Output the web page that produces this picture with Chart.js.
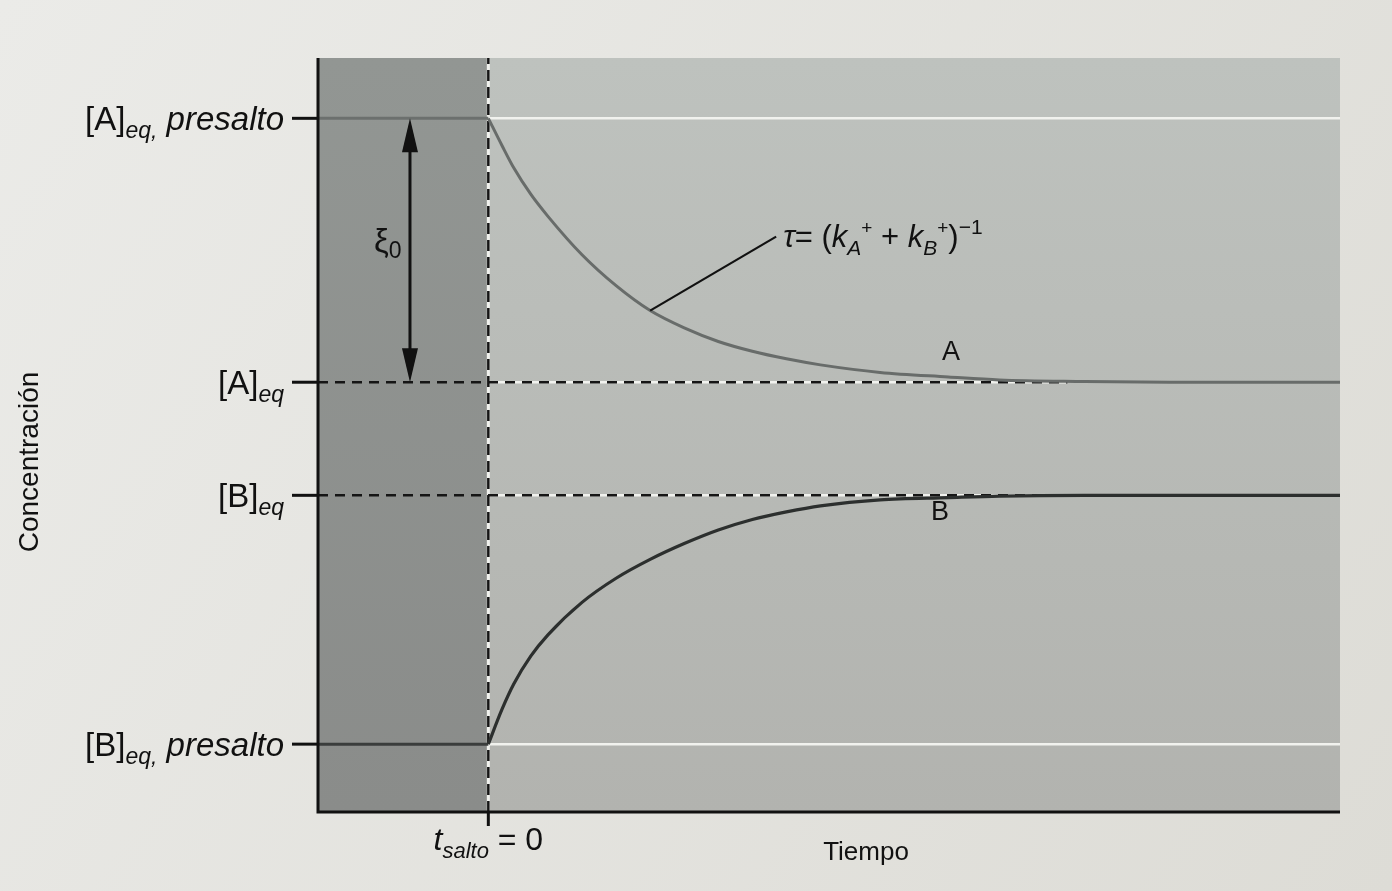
<!DOCTYPE html>
<html lang="es">
<head>
<meta charset="UTF-8">
<title>Concentración frente a tiempo tras el salto</title>
<script src="https://cdn.jsdelivr.net/npm/chart.js@4.4.1/dist/chart.umd.min.js"></script>
<style>
    html, body { margin: 0; padding: 0; background: #e4e5e1; }
    #wrap { width: 1392px; height: 891px; }
</style>
</head>
<body>
<div id="wrap"><canvas id="jumpChart" width="1392" height="891"></canvas></div>
<script>
    // tiempo (unidades arbitrarias), el salto ocurre en t = 0
    var tPre = [-1, 0];
    var tPost = [0, 0.08, 0.15, 0.25, 0.35, 0.55, 0.75, 0.95, 1.15, 1.35, 1.55, 1.75, 1.95, 2.3, 2.7, 3.0, 3.5, 4.0, 5.0];
    var concA = [9.20, 8.84, 8.54, 8.19, 7.90, 7.39, 6.98, 6.65, 6.42, 6.24, 6.11, 6.01, 5.93, 5.83, 5.77, 5.73, 5.71, 5.70, 5.70];
    var concB = [0.90, 1.36, 1.70, 2.07, 2.35, 2.78, 3.10, 3.35, 3.56, 3.74, 3.88, 3.98, 4.06, 4.14, 4.17, 4.19, 4.20, 4.20, 4.20];

    // niveles marcados en el eje y
    var levelValues = [9.2, 5.7, 4.2, 0.9];      // [A]pre, [A]eq, [B]eq, [B]pre
    var levelMain = ['[A]', '[A]', '[B]', '[B]'];
    var levelSub = ['eq,', 'eq', 'eq', 'eq,'];
    var levelTail = ['presalto', '', '', 'presalto'];

    var tMin = -1, tMax = 5, tDashEnd = 3.4;
    var tArrow = -0.46;     // flecha xi_0
    var tLeader = 0.95;     // punto de la curva A señalado por tau

    var FONT = '"Liberation Sans", Arial, Helvetica, sans-serif';

    function pts(xs, ys) {
        return xs.map(function (x, i) { return { x: x, y: ys[i] }; });
    }
    function flat(x0, x1, v) {
        return [{ x: x0, y: v }, { x: x1, y: v }];
    }

    function drawRuns(ctx, runs, x, y, align) {
        var w = 0;
        runs.forEach(function (r) { ctx.font = r.font; w += ctx.measureText(r.text).width; });
        var cx = align === 'right' ? x - w : (align === 'center' ? x - w / 2 : x);
        ctx.textAlign = 'left';
        ctx.textBaseline = 'alphabetic';
        runs.forEach(function (r) {
            ctx.font = r.font;
            ctx.fillText(r.text, cx, y + (r.dy || 0));
            cx += ctx.measureText(r.text).width;
        });
    }

    var figurePlugin = {
        id: 'figure',
        beforeDraw: function (chart) {
            var ctx = chart.ctx;
            var g = ctx.createLinearGradient(0, 0, chart.width, chart.height);
            g.addColorStop(0, '#ebebe8');
            g.addColorStop(1, '#dddcd6');
            ctx.save();
            ctx.fillStyle = g;
            ctx.fillRect(0, 0, chart.width, chart.height);
            ctx.restore();
        },
        beforeDatasetsDraw: function (chart) {
            var ctx = chart.ctx, a = chart.chartArea;
            var x0 = chart.scales.x.getPixelForValue(0);
            ctx.save();
            var gl = ctx.createLinearGradient(0, a.top, 0, a.bottom);
            gl.addColorStop(0, '#929693');
            gl.addColorStop(1, '#8a8c8a');
            ctx.fillStyle = gl;
            ctx.fillRect(a.left, a.top, x0 - a.left, a.bottom - a.top);
            var gr = ctx.createLinearGradient(0, a.top, 0, a.bottom);
            gr.addColorStop(0, '#bec2be');
            gr.addColorStop(1, '#b2b3af');
            ctx.fillStyle = gr;
            ctx.fillRect(x0, a.top, a.right - x0, a.bottom - a.top);
            ctx.restore();
        },
        afterDatasetsDraw: function (chart) {
            var ctx = chart.ctx, a = chart.chartArea;
            var xs = chart.scales.x, ys = chart.scales.y;
            var x0 = xs.getPixelForValue(0);
            ctx.save();
            ctx.strokeStyle = '#111';
            ctx.fillStyle = '#111';
            ctx.lineWidth = 3;
            ctx.lineCap = 'butt';

            // ejes
            ctx.beginPath();
            ctx.moveTo(a.left, a.top);
            ctx.lineTo(a.left, a.bottom);
            ctx.lineTo(a.right, a.bottom);
            ctx.stroke();

            // marcas del eje y
            levelValues.forEach(function (v, i) {
                var y = ys.getPixelForValue(v);
                ctx.beginPath();
                ctx.moveTo(a.left - 26, y);
                ctx.lineTo(a.left, y);
                ctx.stroke();
                var runs = [
                    { text: levelMain[i], font: '33px ' + FONT },
                    { text: levelSub[i], font: 'italic 23px ' + FONT, dy: 8 }
                ];
                if (levelTail[i]) runs.push({ text: ' ' + levelTail[i], font: 'italic 33px ' + FONT });
                drawRuns(ctx, runs, a.left - 34, y + 12, 'right');
            });

            // marca del salto
            ctx.beginPath();
            ctx.moveTo(x0, a.bottom);
            ctx.lineTo(x0, a.bottom + 14);
            ctx.stroke();
            drawRuns(ctx, [
                { text: 't', font: 'italic 32px ' + FONT },
                { text: 'salto', font: 'italic 22px ' + FONT, dy: 8 },
                { text: ' = 0', font: '32px ' + FONT }
            ], x0, a.bottom + 38, 'center');

            // titulos de ejes
            ctx.font = '26px ' + FONT;
            ctx.textAlign = 'center';
            ctx.textBaseline = 'alphabetic';
            ctx.fillText('Tiempo', 866, a.bottom + 48);
            ctx.save();
            ctx.translate(30, 462);
            ctx.rotate(-Math.PI / 2);
            ctx.font = '28px ' + FONT;
            ctx.textBaseline = 'middle';
            ctx.fillText('Concentración', 0, 0);
            ctx.restore();

            // flecha doble xi_0
            var ax = xs.getPixelForValue(tArrow);
            var yTop = ys.getPixelForValue(levelValues[0]);
            var yBot = ys.getPixelForValue(levelValues[1]);
            ctx.beginPath();
            ctx.moveTo(ax, yTop + 24);
            ctx.lineTo(ax, yBot - 24);
            ctx.stroke();
            ctx.beginPath();
            ctx.moveTo(ax, yTop);
            ctx.lineTo(ax - 8, yTop + 34);
            ctx.lineTo(ax + 8, yTop + 34);
            ctx.closePath();
            ctx.fill();
            ctx.beginPath();
            ctx.moveTo(ax, yBot);
            ctx.lineTo(ax - 8, yBot - 34);
            ctx.lineTo(ax + 8, yBot - 34);
            ctx.closePath();
            ctx.fill();
            drawRuns(ctx, [
                { text: 'ξ', font: '33px ' + FONT },
                { text: '0', font: '23px ' + FONT, dy: 6 }
            ], ax - 36, (yTop + yBot) / 2 + 2, 'left');

            // linea guia y etiqueta de tau
            var idx = tPost.indexOf(tLeader);
            var lx = xs.getPixelForValue(tLeader);
            var ly = ys.getPixelForValue(concA[idx]);
            ctx.lineWidth = 2.2;
            ctx.beginPath();
            ctx.moveTo(lx, ly);
            ctx.lineTo(lx + 126, ly - 74);
            ctx.stroke();
            drawRuns(ctx, [
                { text: 'τ', font: 'italic 31px ' + FONT },
                { text: '= (', font: '31px ' + FONT },
                { text: 'k', font: 'italic 31px ' + FONT },
                { text: 'A', font: 'italic 21px ' + FONT, dy: 8 },
                { text: '+', font: '19px ' + FONT, dy: -13 },
                { text: ' + ', font: '31px ' + FONT },
                { text: 'k', font: 'italic 31px ' + FONT },
                { text: 'B', font: 'italic 21px ' + FONT, dy: 8 },
                { text: '+', font: '19px ' + FONT, dy: -13 },
                { text: ')', font: '31px ' + FONT },
                { text: '−1', font: '21px ' + FONT, dy: -13 }
            ], lx + 133, ly - 64, 'left');

            // etiquetas de las curvas
            ctx.font = '27px ' + FONT;
            ctx.textAlign = 'center';
            ctx.fillText('A', 951, 360);
            ctx.fillText('B', 940, 520);
            ctx.restore();
        }
    };

    var white = '#f1f2ee';
    var dash = [10, 7];

    var datasets = [
        { data: pts(tPost, concA), borderColor: '#686c6a', borderWidth: 3, cubicInterpolationMode: 'monotone', order: 1 },
        { data: pts(tPost, concB), borderColor: '#2c2f2e', borderWidth: 3.2, cubicInterpolationMode: 'monotone', order: 1 },
        { data: flat(tPre[0], tPre[1], levelValues[0]), borderColor: '#6c706e', borderWidth: 3, order: 2 },
        { data: flat(tPre[0], tPre[1], levelValues[3]), borderColor: '#3a3d3c', borderWidth: 3, order: 2 },
        { data: flat(tMin, tDashEnd, levelValues[1]), borderColor: '#151515', borderWidth: 2.5, borderDash: dash, order: 3 },
        { data: flat(tMin, tDashEnd, levelValues[2]), borderColor: '#151515', borderWidth: 2.5, borderDash: dash, order: 3 },
        { data: [{ x: 0, y: 0 }, { x: 0, y: 10 }], borderColor: '#151515', borderWidth: 2.5, borderDash: [11, 6], order: 3 },
        { data: flat(0, tDashEnd, levelValues[1]), borderColor: white, borderWidth: 2.5, order: 4 },
        { data: flat(0, tDashEnd, levelValues[2]), borderColor: white, borderWidth: 2.5, order: 4 },
        { data: [{ x: 0, y: 0 }, { x: 0, y: 10 }], borderColor: white, borderWidth: 3, order: 4 },
        { data: flat(0, tMax, levelValues[0]), borderColor: white, borderWidth: 2.5, order: 4 },
        { data: flat(0, tMax, levelValues[3]), borderColor: white, borderWidth: 2.5, order: 4 }
    ];
    datasets.forEach(function (d) {
        d.showLine = true;
        d.pointRadius = 0;
        d.fill = false;
    });

    var ctx = document.getElementById('jumpChart').getContext('2d');
    var jumpChart = new Chart(ctx, {
        type: 'scatter',
        data: { datasets: datasets },
        options: {
            responsive: false,
            animation: false,
            layout: { padding: { left: 318, right: 52, top: 58, bottom: 79 } },
            scales: {
                x: { type: 'linear', min: tMin, max: tMax, display: false },
                y: { type: 'linear', min: 0, max: 10, display: false }
            },
            plugins: {
                legend: { display: false },
                tooltip: { enabled: false }
            }
        },
        plugins: [figurePlugin]
    });
</script>
</body>
</html>
